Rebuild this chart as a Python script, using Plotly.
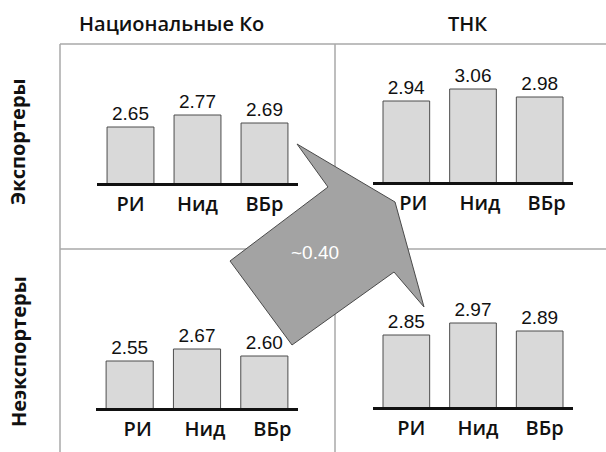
import plotly.graph_objects as go

W, H = 606, 452

categories = ["РИ", "Нид", "ВБр"]
exp_national = [2.65, 2.77, 2.69]
exp_tnc = [2.94, 3.06, 2.98]
nonexp_national = [2.55, 2.67, 2.60]
nonexp_tnc = [2.85, 2.97, 2.89]
col_titles = ["Национальные Ко", "ТНК"]
row_titles = ["Экспортеры", "Неэкспортеры"]
arrow_label = "~0.40"


def px(x):
    return x / W


def py(y):
    return 1 - y / H


# panel layout: (values, x0, x1, baseline_y, top_y, base_value, label_shift)
panels = [
    (exp_national, 97, 298, 183, 50, 2.09, 0),
    (exp_tnc, 373, 573, 182, 50, 2.13, 7),
    (nonexp_national, 96, 298, 408, 255, 2.08, 8),
    (nonexp_tnc, 373, 573, 407, 255, 2.13, 5),
]

fig = go.Figure()
layout = dict(
    width=W, height=H, margin=dict(l=0, r=0, t=0, b=0),
    paper_bgcolor="white", plot_bgcolor="rgba(0,0,0,0)",
    showlegend=False, bargap=0.30,
)

for i, (vals, x0, x1, yb, yt, base, shift) in enumerate(panels, start=1):
    xa = "x" if i == 1 else f"x{i}"
    ya = "y" if i == 1 else f"y{i}"
    fig.add_trace(go.Bar(
        x=categories, y=vals, xaxis=xa, yaxis=ya,
        marker=dict(color="#d9d9d9", line=dict(color="#4d4d4d", width=1)),
        text=[f"{v:.2f}" for v in vals], textposition="outside",
        textfont=dict(family="Liberation Sans", size=19, color="#111111"),
        cliponaxis=False, hoverinfo="skip",
    ))
    span = (yb - yt) / 100.0
    layout["xaxis" if i == 1 else f"xaxis{i}"] = dict(
        domain=[px(x0), px(x1)], anchor=ya,
        showline=True, linecolor="#111111", linewidth=3,
        ticks="", showgrid=False, zeroline=False,
        tickfont=dict(family="Open Sans", size=20, color="#111111", weight=600),
        ticklabelstandoff=1, ticklabelshift=shift, fixedrange=True,
    )
    layout["yaxis" if i == 1 else f"yaxis{i}"] = dict(
        domain=[py(yb), py(yt)], anchor=xa,
        range=[base, base + span], visible=False, fixedrange=True,
    )

fig.update_layout(**layout)

# grid frame lines
grid = "#a8a8a8"
frame_lines = [
    (60, 44, 606, 44), (60, 44, 60, 452), (335, 44, 335, 452), (60, 249, 606, 249),
]
for (a, b, c, d) in frame_lines:
    fig.add_shape(type="line", xref="paper", yref="paper",
                  x0=px(a), y0=py(b), x1=px(c), y1=py(d),
                  line=dict(color=grid, width=1.5), layer="below")

# block arrow
arrow_pts = [(230, 261), (328, 187), (297, 144), (395, 202), (424, 307),
             (394, 272), (292, 345)]
path = "M " + " L ".join(f"{px(x):.5f},{py(y):.5f}" for x, y in arrow_pts) + " Z"
fig.add_shape(type="path", xref="paper", yref="paper", path=path,
              fillcolor="#a3a3a3", line=dict(color="#4a4a4a", width=1), layer="above")
fig.add_annotation(x=px(315), y=py(252), xref="paper", yref="paper",
                   xanchor="center", yanchor="middle",
                   text=arrow_label, showarrow=False,
                   font=dict(family="Liberation Sans", size=19, color="white"))

# column titles
fig.add_annotation(x=px(77), y=py(24), xref="paper", yref="paper",
                   xanchor="left", yanchor="middle",
                   text=col_titles[0], showarrow=False,
                   font=dict(family="Open Sans", size=20, color="#111111", weight=600))
fig.add_annotation(x=px(467), y=py(24), xref="paper", yref="paper",
                   xanchor="center", yanchor="middle",
                   text=col_titles[1], showarrow=False,
                   font=dict(family="Open Sans", size=20, color="#111111", weight=600))

# row titles
fig.add_annotation(x=px(18), y=py(142), xref="paper", yref="paper",
                   xanchor="center", yanchor="middle",
                   text=row_titles[0], showarrow=False, textangle=-90,
                   font=dict(family="Open Sans", size=20, color="#111111", weight=700))
fig.add_annotation(x=px(18), y=py(352), xref="paper", yref="paper",
                   xanchor="center", yanchor="middle",
                   text=row_titles[1], showarrow=False, textangle=-90,
                   font=dict(family="Open Sans", size=20, color="#111111", weight=700))

fig.write_html("out.html", config={"displayModeBar": False},
               post_script="document.body.style.margin='0';")
